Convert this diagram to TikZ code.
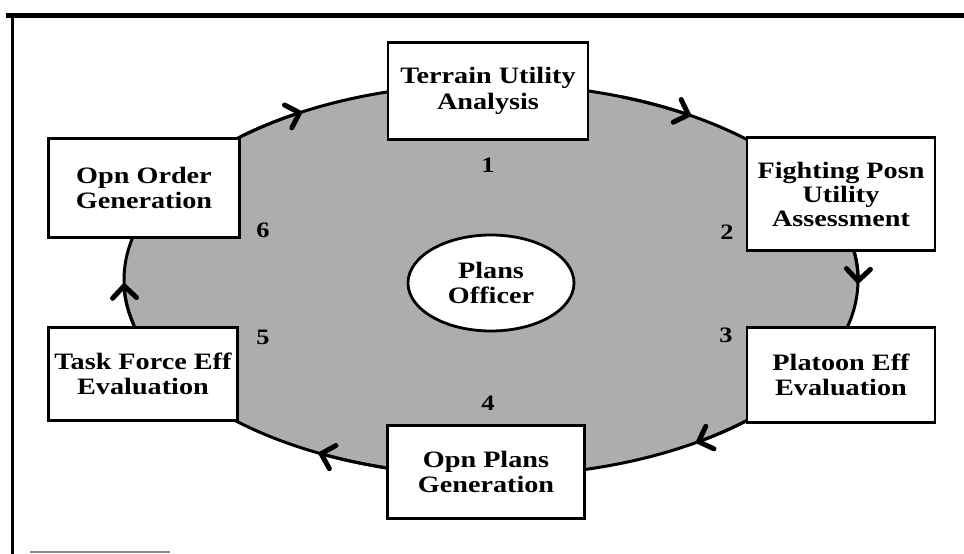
\documentclass[tikz,border=0pt]{standalone}
\usepackage{fontspec}
\setmainfont[FakeStretch=1.2]{Liberation Serif}
\usetikzlibrary{arrows.meta,calc,shapes.geometric}
\tikzset{
  box/.style={draw, line width=2.8pt, fill=white, inner sep=0pt, align=center,
    font=\fontsize{23.5}{25.5}\selectfont\bfseries},
  numlbl/.style={inner sep=0pt, font=\fontsize{22}{22}\selectfont\bfseries},
  cyc/.style={line width=3pt},
  cycarrow/.style={line width=3pt, -{Straight Barb[length=12pt,width=24pt,line width=5pt,round]}},
}
\begin{document}
\begin{tikzpicture}[x=1pt,y=-1pt]
\useasboundingbox (0,0) rectangle (964,554);
% frame
\draw[line width=5pt] (6,15) -- (964,15);
\draw[line width=3pt] (12,15) -- (12,554);
\draw[line width=1.2pt, black!45] (30,552) -- (170,552);
% cycle
\coordinate (E) at (491,280);
\fill[black!32] (E) ellipse [x radius=367pt, y radius=196pt];
\draw[cyc] (E) ellipse [x radius=367pt, y radius=196pt];
\foreach \t in {-1,57,121,181,242,304}{
  \draw[cycarrow] ($(E)+(\t+12:367pt and 196pt)$) arc[start angle=\t+12, end angle=\t, x radius=367pt, y radius=196pt];
}
% boxes
\node[box, minimum width=200pt, minimum height=97pt] (t1) at (488,91) {Terrain Utility\\Analysis};
\node[box, minimum width=188pt, minimum height=113pt, font=\fontsize{23.5}{24}\selectfont\bfseries] (t2) at (841,194) {Fighting Posn\\Utility\\Assessment};
\node[box, minimum width=188pt, minimum height=95pt] (t3) at (841,375) {Platoon Eff\\Evaluation};
\node[box, minimum width=197pt, minimum height=93pt] (t4) at (486,472) {Opn Plans\\Generation};
\node[box, minimum width=189pt, minimum height=93pt] (t5) at (143,374) {Task Force Eff\\Evaluation};
\node[box, minimum width=191pt, minimum height=99pt] (t6) at (144,188) {Opn Order\\Generation};
% center
\node[ellipse, draw, line width=2.8pt, fill=white, inner sep=0pt, minimum width=166pt, minimum height=96pt, align=center, font=\fontsize{23.5}{25.5}\selectfont\bfseries] (po) at (491,283) {Plans\\Officer};
% numbers
\node[numlbl] (n1) at (488,165) {1};
\node[numlbl] (n2) at (727,232) {2};
\node[numlbl] (n3) at (726,335) {3};
\node[numlbl] (n4) at (488,403) {4};
\node[numlbl] (n5) at (263,337) {5};
\node[numlbl] (n6) at (263,230) {6};
\end{tikzpicture}
\end{document}
